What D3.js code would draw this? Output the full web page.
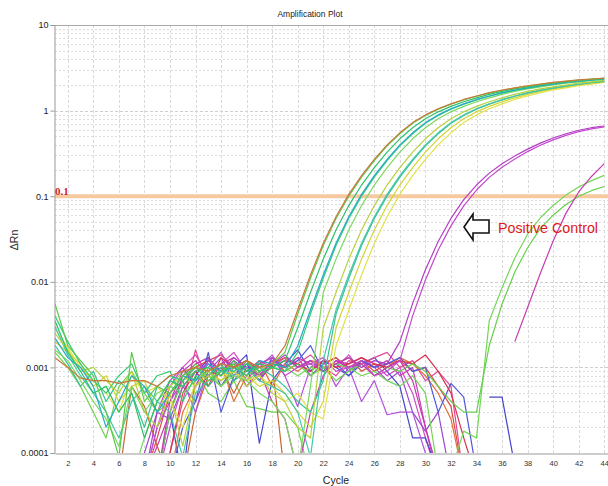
<!DOCTYPE html>
<html><head><meta charset="utf-8">
<script src="https://cdn.jsdelivr.net/npm/d3@7"></script>
<style>html,body{margin:0;padding:0;background:#fff;} svg{display:block;font-family:Arial,"Liberation Sans",sans-serif;}</style>
</head><body>
<svg id="chart" width="608" height="486"></svg>
<script>
// ---------- DATA (ΔRn per cycle, cycle = index+1; null = no point) ----------
const xTickValues = [2,4,6,8,10,12,14,16,18,20,22,24,26,28,30,32,34,36,38,40,42,44];
const yTickValues = [0.0001,0.001,0.01,0.1,1,10];
const yTickLabels = ["0.0001","0.001","0.01","0.1","1","10"];
const threshold = 0.1;

// non-amplifying wells
const n1 = [5e-5,5e-5,5e-5,5e-5,5e-5,5e-5,5e-5,5e-5,2e-4,6e-4,1e-3,1.4e-3,8e-4,1.1e-3,1.5e-3,9e-4,1.2e-3,1e-3,1.3e-3,1.1e-3,9e-4,1.2e-3,1e-3,1.4e-3,9e-4,1.1e-3,8e-4,1e-3,5e-4,1.5e-4,5e-5];
const n2 = [5e-5,5e-5,5e-5,5e-5,5e-5,5e-5,5e-5,1e-4,3e-4,2.5e-4,6e-4,4e-4,9e-4,1.3e-3,7e-4,1.1e-3,8e-4,1.2e-3,1e-3,1.3e-3,8e-4,1.1e-3,1.3e-3,9e-4,1.2e-3,1e-3,7e-4,9e-4,3e-4,1.8e-4,3e-4,5e-5];
const n3 = [5e-5,5e-5,5e-5,5e-5,5e-5,5e-5,5e-5,5e-5,5e-5,3e-4,5e-5,8e-4,1.3e-3,6e-4,1e-3,1.4e-3,1.3e-4,7e-4,1.1e-3,1.6e-3,9e-4,1.2e-3,1e-3,8e-4,1.1e-3,1.3e-3,9e-4,6e-4,1.5e-4,1.5e-4,6e-5,null,null,null,4.5e-4,4.5e-4,7e-5];
const n4 = [5e-5,5e-5,5e-5,5e-5,5e-5,5e-5,5e-5,5e-5,1.5e-4,5e-4,7e-4,1e-3,1.2e-3,1.4e-3,1e-3,1.2e-3,9e-4,1.1e-3,1.3e-3,1e-3,1.2e-3,1.1e-3,1.3e-3,1e-3,1.2e-3,9e-4,1.1e-3,1.2e-3,9e-4,1e-3,6e-4,3.5e-4,5e-5];
const n5 = [5e-5,5e-5,5e-5,5e-5,5e-5,5e-5,5e-5,5e-5,5e-5,1e-4,4e-4,1.6e-3,6e-4,9e-4,1.2e-3,7e-4,1.1e-3,1.3e-3,9e-4,1.1e-3,1.4e-3,1e-3,8e-4,1.2e-3,1.1e-3,1.3e-3,1.5e-3,1e-3,1.2e-3,7e-4,9e-4,6e-4,5e-5];
const n6 = [5e-5,5e-5,5e-5,5e-5,5e-5,5e-5,5e-5,5e-5,5e-5,5e-5,3e-4,6e-4,9e-4,1.1e-3,4e-4,8e-4,1.2e-3,6e-4,1.1e-3,9e-4,1.2e-3,1e-3,1.1e-3,1.3e-3,9e-4,1.1e-3,1e-3,1.3e-3,1.1e-3,8e-4,5e-4,2.5e-4,5e-5];
const n7 = [5e-5,5e-5,5e-5,5e-5,5e-5,5e-5,6e-4,3.5e-4,1.2e-4,5e-5,5e-5,3e-4,8e-4,1e-3,5e-4,1e-3,7e-4,1.1e-3,5e-5];
const n8 = [5e-5,5e-5,5e-5,5e-5,5e-5,5e-5,5e-5,5e-5,2e-4,4e-4,7e-4,3e-4,1e-3,1.5e-3,8e-4,1.2e-3,1e-3,1.4e-3,8e-4,3.5e-4,1e-3,1.2e-3,6e-4,1e-3,4e-4,7e-4,2.8e-4,3e-4,3e-4,1e-4,5e-5];
const n9 = [5e-5,5e-5,5e-5,5e-5,5e-5,5e-5,5e-5,5e-5,1.2e-4,3e-4,8e-4,1.1e-3,1.3e-3,9e-4,1.1e-3,6e-4,9e-4,4e-4,2.5e-4,6e-5,3e-4,8e-4,1.2e-3,1.1e-3,1.3e-3,1e-3,1.2e-3,8e-4,1e-3,2e-4,6e-5];
const n10 = [5e-5,5e-5,5e-5,5e-5,5e-5,5e-5,5e-5,5e-5,5e-5,5e-5,2e-4,4e-4,1.5e-3,3e-4,8e-4,1.1e-3,7e-4,1.3e-3,1e-3,1.2e-3,1.8e-3,9e-4,1.1e-3,8e-4,1.2e-3,1e-3,1.1e-3,1.3e-3,9e-4,1e-3,3e-4,6.5e-4,4.5e-4,6e-5];
const n11 = [1.5e-3,1e-3,6e-4,3e-4,1.5e-4,6e-4,9e-4,5e-4,3e-4,4e-4,7e-4,9e-4,5e-4,4e-4,7e-4,3.5e-4,3.3e-4,3e-4,3e-4,2e-4,5e-5];
const n12 = [5e-5,5e-5,5e-5,5e-5,5e-5,5e-5,5e-5,5e-5,5e-5,1e-4,5e-4,9e-4,6e-4,1.3e-3,1e-3,1.2e-3,8e-4,1e-3,1.2e-3,1.1e-3,9e-4,1.2e-3,1e-3,1.1e-3,1.3e-3,1.1e-3,1e-3,1.2e-3,1.1e-3,1.4e-3,9e-4,5e-4,1.5e-4,5e-5];

// late / positive control wells
const posCtrl1 = [5e-5,5e-5,5e-5,5e-5,5e-5,5e-5,5e-5,5e-5,3e-4,7e-4,1e-3,6e-4,1.2e-3,9e-4,1.3e-3,1e-3,7e-4,1.1e-3,1.4e-3,1e-3,1.2e-3,9e-4,1.1e-3,1.3e-3,1e-3,1.2e-3,1.1e-3,2e-3,5.6e-3,1.38e-2,2.95e-2,5.5e-2,9.1e-2,0.135,0.186,0.24,0.295,0.355,0.417,0.479,0.537,0.589,0.631,0.661];
const posCtrl2 = [5e-5,5e-5,5e-5,5e-5,5e-5,5e-5,5e-5,5e-5,5e-5,2e-4,6e-4,9e-4,1.1e-3,8e-4,1.2e-3,9e-4,1.1e-3,1.3e-3,8e-4,1e-3,1.1e-3,1.3e-3,9e-4,1e-3,1.2e-3,8e-4,9e-4,1.2e-3,4e-3,1.05e-2,2.35e-2,4.5e-2,7.7e-2,0.118,0.166,0.218,0.272,0.332,0.393,0.455,0.513,0.567,0.612,0.645];
const lateG1 = [5e-5,5e-5,5e-5,5e-5,5e-5,5e-5,5e-5,1.5e-4,4e-4,6e-4,9e-4,7e-4,1e-3,8e-4,1.1e-3,7e-4,9e-4,1.1e-3,1e-3,8e-4,1e-3,9e-4,1.1e-3,1e-3,8e-4,9e-4,7e-4,6e-4,8e-4,5e-4,6e-5,6e-5,1.8e-4,1.5e-4,3.5e-3,8.5e-3,1.9e-2,3.6e-2,5.6e-2,7.8e-2,0.103,0.128,0.152,0.175];
const lateG2 = [5e-5,5e-5,5e-5,5e-5,5e-5,5e-5,5e-5,5e-5,5e-5,3e-4,7e-4,1.1e-3,8e-4,6e-4,9e-4,1.2e-3,8e-4,1e-3,9e-4,1.1e-3,8e-4,1e-3,7e-4,9e-4,1.1e-3,8e-4,1e-3,9e-4,1.1e-3,9e-4,6e-4,4e-4,3e-4,3e-4,1.8e-3,5.5e-3,1.3e-2,2.5e-2,4.2e-2,6e-2,8e-2,0.1,0.116,0.13];
const lateM3 = [5e-5,5e-5,5e-5,5e-5,5e-5,5e-5,5e-5,5e-5,5e-5,4e-4,9e-4,1.2e-3,8e-4,1.1e-3,1.3e-3,1e-3,8e-4,1.2e-3,1e-3,1.3e-3,1.1e-3,9e-4,1.2e-3,1e-3,1.1e-3,8e-4,1e-3,1.2e-3,7e-4,2e-4,5e-5,null,null,null,null,null,2e-3,5e-3,1.26e-2,3e-2,6.3e-2,0.112,0.17,0.24];

// sample wells (amplifying)
const a1 = [1.3e-3,1e-3,7.5e-4,7e-4,7e-4,6.5e-4,7e-4,7e-4,6e-4,8e-4,9e-4,1e-3,9e-4,1.1e-3,1e-3,1.2e-3,1e-3,1.1e-3,1.78e-3,4.68e-3,1.2e-2,2.82e-2,5.75e-2,0.105,0.174,0.269,0.398,0.55,0.724,0.891,1.05,1.2,1.35,1.48,1.62,1.74,1.84,1.95,2.04,2.14,2.21,2.29,2.34,2.4];
const a2 = [5.5e-3,1.8e-3,1.2e-3,8e-4,3e-4,9e-5,1.5e-3,4e-4,6e-4,5e-4,8e-4,1e-3,7e-4,9e-4,1.1e-3,8e-4,1e-3,1.1e-3,1.5e-3,4.2e-3,1.1e-2,2.65e-2,5.5e-2,0.1,0.167,0.26,0.387,0.537,0.71,0.877,1.04,1.19,1.33,1.47,1.6,1.72,1.83,1.93,2.03,2.12,2.2,2.27,2.33,2.38];
const a3 = [3.5e-3,1.5e-3,9e-4,5e-4,6e-4,3e-4,5e-4,1.5e-4,4e-4,7e-4,6e-4,9e-4,1e-3,8e-4,1.2e-3,9e-4,1.1e-3,1e-3,1.2e-3,2.89e-3,7.49e-3,1.84e-2,4.03e-2,7.77e-2,0.135,0.216,0.327,0.468,0.631,0.803,0.967,1.12,1.27,1.41,1.55,1.68,1.79,1.89,1.99,2.09,2.17,2.25,2.31,2.37];
const a4 = [2.2e-3,1.3e-3,1e-3,6e-4,2e-4,4e-4,8e-4,6e-4,3e-4,5e-4,8e-4,7e-4,1.1e-3,9e-4,1e-3,8e-4,1.2e-3,1.1e-3,1e-3,1.78e-3,4.68e-3,1.2e-2,2.82e-2,5.75e-2,0.105,0.174,0.269,0.398,0.55,0.724,0.891,1.05,1.2,1.35,1.48,1.62,1.74,1.84,1.95,2.04,2.14,2.21,2.29,2.34];
const a5 = [4e-3,2e-3,1.1e-3,7e-4,5e-4,8e-4,1.1e-3,5e-4,8e-4,9e-4,4e-4,8e-4,6e-4,1e-3,9e-4,1.1e-3,9e-4,1e-3,9e-4,1.5e-3,4.2e-3,1.1e-2,2.65e-2,5.5e-2,0.1,0.167,0.26,0.387,0.537,0.71,0.877,1.04,1.19,1.33,1.47,1.6,1.72,1.83,1.93,2.03,2.12,2.2,2.27,2.33];
const a6 = [1.6e-3,1.2e-3,7e-4,4e-4,2.5e-4,1.2e-4,6e-4,3e-4,5e-4,6e-4,5e-4,7e-4,9e-4,6e-4,8e-4,7e-4,5e-4,4e-4,2.5e-4,6e-5,6e-4,7.49e-3,1.84e-2,4.03e-2,7.77e-2,0.135,0.216,0.327,0.468,0.631,0.803,0.967,1.12,1.27,1.41,1.55,1.68,1.79,1.89,1.99,2.09,2.17,2.25,2.31];
const a7 = [2.5e-3,1.6e-3,9e-4,1e-3,7e-4,5e-4,9e-4,3e-4,2e-4,5e-4,1.2e-4,6e-4,8e-4,7e-4,9e-4,6e-4,8e-4,5e-4,4e-4,2e-4,1.5e-4,2.89e-3,7.49e-3,1.84e-2,4.03e-2,7.77e-2,0.135,0.216,0.327,0.468,0.631,0.803,0.967,1.12,1.27,1.41,1.55,1.68,1.79,1.89,1.99,2.09,2.17,2.25];
const a8 = [3e-3,1.4e-3,8e-4,5e-4,3e-4,1.5e-4,4e-4,6e-4,4e-4,3e-4,9e-5,5e-4,7e-4,9e-4,8e-4,1e-3,7e-4,6e-4,5e-4,3e-4,9e-5,1.2e-3,4.68e-3,1.2e-2,2.82e-2,5.75e-2,0.105,0.174,0.269,0.398,0.55,0.724,0.891,1.05,1.2,1.35,1.48,1.62,1.74,1.84,1.95,2.04,2.14,2.21];
const a9 = [1.8e-3,1.1e-3,6e-4,9e-4,4e-4,7e-4,5e-4,2e-4,6e-4,8e-4,7e-4,1e-3,8e-4,1.1e-3,7e-4,9e-4,1e-3,8e-4,6e-4,4e-4,3e-4,7e-4,4.2e-3,1.1e-2,2.65e-2,5.5e-2,0.1,0.167,0.26,0.387,0.537,0.71,0.877,1.04,1.19,1.33,1.47,1.6,1.72,1.83,1.93,2.03,2.12,2.2];
const a10 = [2e-3,1.5e-3,1.1e-3,6e-4,8e-4,4e-4,6e-4,7e-4,3e-4,6e-4,8e-4,6e-4,9e-4,7e-4,1e-3,8e-4,6e-4,7e-4,5e-4,3e-4,2e-4,4e-4,2.89e-3,7.49e-3,1.84e-2,4.03e-2,7.77e-2,0.135,0.216,0.327,0.468,0.631,0.803,0.967,1.12,1.27,1.41,1.55,1.68,1.79,1.89,1.99,2.09,2.17];
const a11 = [2.8e-3,1.7e-3,1e-3,7e-4,5e-4,3e-4,8e-4,5e-4,6e-4,4e-4,2e-4,7e-4,1e-3,8e-4,9e-4,7e-4,8e-4,6e-4,4e-4,5e-4,3e-4,2.5e-4,1.78e-3,4.68e-3,1.2e-2,2.82e-2,5.75e-2,0.105,0.174,0.269,0.398,0.55,0.724,0.891,1.05,1.2,1.35,1.48,1.62,1.74,1.84,1.95,2.04,2.14];

const seriesData = [n11,n1,n2,n3,n4,n5,n6,n7,n8,n9,n10,n12,lateG1,lateG2,lateM3,posCtrl1,posCtrl2,a11,a10,a9,a8,a7,a6,a5,a4,a3,a2,a1];
// styles (kept apart from data)
const seriesColors = ["#6fd24e","#d448c8","#9a48cc","#4444d0","#e04848","#e04a98","#e07038","#c86432","#b252d8","#c63cb2","#5058d8","#d83050",
  "#74d656","#66d04c","#c83cae","#b23ec4","#c248cc",
  "#e2e24a","#d2d434","#36c292","#44c8aa","#b8d040","#7cd860","#36cc76","#26a8c6","#2cc068","#5cc84c","#c8783a"];

// ---------- CHART ----------
const W = 608, H = 486;
const m = {left: 55, top: 25, bottom: 453, right: 617};
const svg = d3.select("#chart");
const x = d3.scaleLinear().domain([1, 45]).range([m.left, m.right]);
const y = d3.scaleLog().domain([1e-4, 10]).range([m.bottom, m.top]);

// grid
const grid = svg.append("g");
const minor = [];
[1e-4,1e-3,1e-2,1e-1,1].forEach(d => { for (let k = 2; k <= 9; k++) minor.push(d*k); });
grid.selectAll(".minor").data(minor).join("line")
  .attr("x1", m.left).attr("x2", W).attr("y1", d => Math.round(y(d))+0.5).attr("y2", d => Math.round(y(d))+0.5)
  .attr("stroke", "#dcdcdc").attr("stroke-width", 1).attr("stroke-dasharray", "2,2");
grid.selectAll(".major").data(yTickValues.slice(1,5)).join("line")
  .attr("x1", m.left).attr("x2", W).attr("y1", d => Math.round(y(d))+0.5).attr("y2", d => Math.round(y(d))+0.5)
  .attr("stroke", "#cfcfcf").attr("stroke-width", 1).attr("stroke-dasharray", "3,2");
grid.selectAll(".vg").data(xTickValues).join("line")
  .attr("x1", d => Math.round(x(d))+0.5).attr("x2", d => Math.round(x(d))+0.5).attr("y1", m.top).attr("y2", m.bottom)
  .attr("stroke", "#dadada").attr("stroke-width", 1).attr("stroke-dasharray", "3,2");

// clip
svg.append("clipPath").attr("id", "clip").append("rect")
  .attr("x", m.left).attr("y", m.top).attr("width", m.right - m.left).attr("height", m.bottom - m.top);

// threshold
svg.append("line").attr("x1", m.left).attr("x2", W).attr("y1", y(threshold)).attr("y2", y(threshold))
  .attr("stroke", "#f6c9a0").attr("stroke-width", 4);

// curves
const line = d3.line().defined(d => d.v != null).x(d => x(d.c)).y(d => y(d.v));
const gc = svg.append("g").attr("clip-path", "url(#clip)");
seriesData.forEach((arr, i) => {
  const pts = arr.map((v, j) => ({c: j + 1, v: v}));
  gc.append("path").attr("d", line(pts)).attr("fill", "none")
    .attr("stroke", seriesColors[i]).attr("stroke-width", 1.2).attr("stroke-linejoin", "round");
});

// axes
const yAxis = d3.axisLeft(y).tickValues(yTickValues).tickFormat((d, i) => yTickLabels[i]).tickSize(4).tickPadding(2);
const gy = svg.append("g").attr("transform", `translate(${m.left - 0.5},0)`).call(yAxis);
gy.select(".domain").attr("stroke", "#999");
gy.selectAll(".tick line").attr("stroke", "#999");
gy.selectAll("text").attr("font-size", 9).attr("fill", "#222").attr("font-family", "Arial, Liberation Sans, sans-serif");

const xAxis = d3.axisBottom(x).tickValues(xTickValues).tickFormat(d3.format("d")).tickSize(0).tickPadding(7);
const gx = svg.append("g").attr("transform", `translate(0,${m.bottom + 0.5})`).call(xAxis);
gx.select(".domain").attr("stroke", "#999");
gx.selectAll("text").attr("font-size", 7.5).attr("fill", "#333").attr("font-family", "Arial, Liberation Sans, sans-serif");

// top border
svg.append("line").attr("x1", m.left).attr("x2", W).attr("y1", m.top + 0.5).attr("y2", m.top + 0.5).attr("stroke", "#aaa");

// texts
svg.append("text").attr("x", 310).attr("y", 17).attr("text-anchor", "middle").attr("font-size", 8.5).attr("fill", "#222").text("Amplification Plot");
svg.append("text").attr("x", 336).attr("y", 484).attr("text-anchor", "middle").attr("font-size", 10.5).attr("fill", "#222").text("Cycle");
svg.append("text").attr("transform", "translate(18,240) rotate(-90)").attr("text-anchor", "middle").attr("font-size", 10.5).attr("fill", "#222").text("ΔRn");
svg.append("text").attr("x", 55).attr("y", 195).attr("font-size", 11).attr("font-weight", "bold")
  .attr("font-family", "Liberation Serif, Times New Roman, serif").attr("fill", "#c8282a").text("0.1");

// annotation arrow + label
const arrowPts = [[464,227],[473,214],[473,220],[489,220],[489,233],[473,233],[473,240]];
svg.append("polygon").attr("points", arrowPts.map(p => p.join(",")).join(" "))
  .attr("fill", "#fff").attr("stroke", "#111").attr("stroke-width", 1.6).attr("stroke-linejoin", "miter");
svg.append("text").attr("x", 498).attr("y", 233).attr("font-size", 15.5).attr("fill", "#e01818")
  .attr("textLength", 100).attr("lengthAdjust", "spacingAndGlyphs").text("Positive Control");
</script>
</body></html>
